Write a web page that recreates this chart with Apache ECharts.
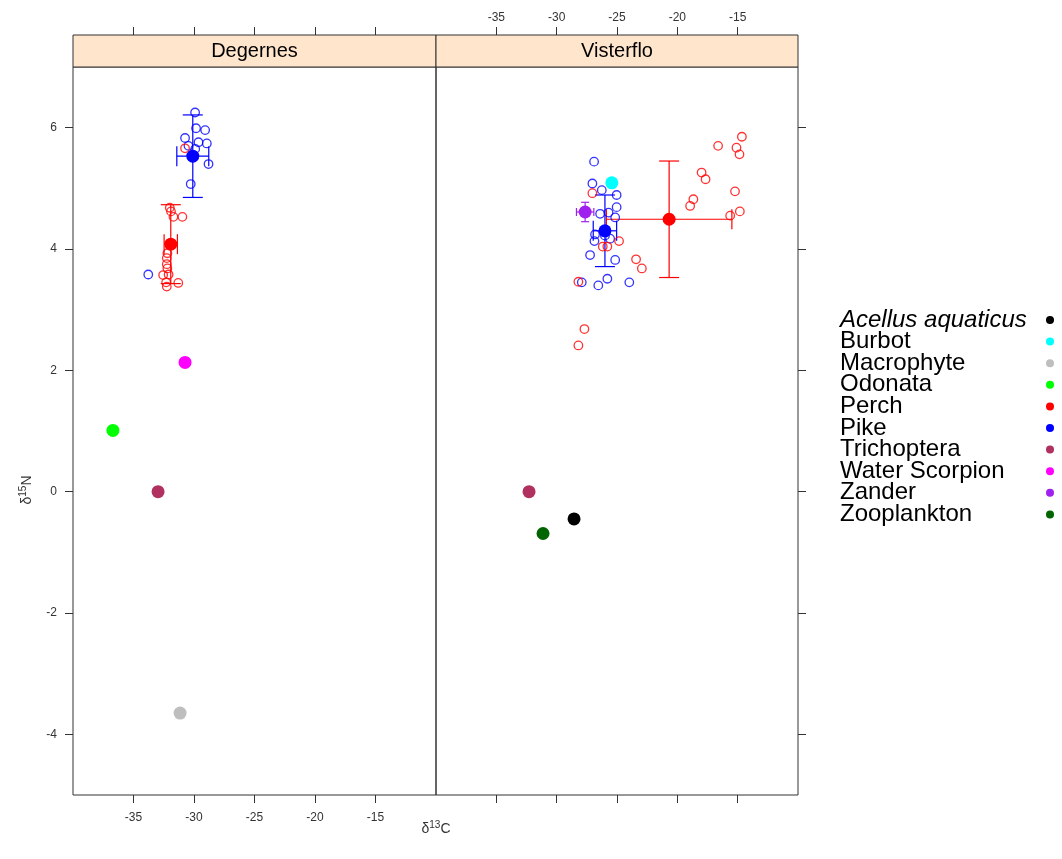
<!DOCTYPE html>
<html><head><meta charset="utf-8">
<script src="https://cdn.jsdelivr.net/npm/echarts@6/dist/echarts.min.js"></script>
<style>html,body{margin:0;padding:0;background:#fff}#c{width:1062px;height:859px}</style>
</head><body><div id="c"></div>
<script>
// ---------------- DATA ----------------
const species = ['Acellus aquaticus','Burbot','Macrophyte','Odonata','Perch','Pike','Trichoptera','Water Scorpion','Zander','Zooplankton'];
const speciesColors = ['#000000','#00FFFF','#BEBEBE','#00FF00','#FF0000','#0000FF','#B03060','#FF00FF','#A020F0','#006400'];
const panels = ['Degernes','Visterflo'];
const xTickValues = [-35,-30,-25,-20,-15];
const yTickValues = [-4,-2,0,2,4,6];

// Degernes group means (d13C, d15N) and error half-widths (null = none)
const degSpecies = ['Macrophyte','Odonata','Perch','Pike','Trichoptera','Water Scorpion'];
const degMeanC  = [-31.15,-36.7,-31.92,-30.1,-32.97,-30.74];
const degMeanN  = [-3.65,1.01,4.08,5.53,0.0,2.13];
const degErrC   = [null,null,0.55,1.32,null,null];
const degErrN   = [null,null,0.65,0.68,null,null];

// Visterflo group means
const visSpecies = ['Acellus aquaticus','Burbot','Perch','Pike','Trichoptera','Zander','Zooplankton'];
const visMeanC  = [-28.56,-25.43,-20.68,-26.0,-32.29,-27.64,-31.13];
const visMeanN  = [-0.45,5.09,4.49,4.30,0.0,4.61,-0.69];
const visErrC   = [null,null,5.2,0.97,null,0.72,null];
const visErrN   = [null,null,0.96,0.59,null,0.16,null];

// individual fish (d13C, d15N)
const degPike = [[-29.91,6.25],[-29.83,5.99],[-29.08,5.96],[-30.74,5.83],[-29.63,5.76],[-28.94,5.74],[-30.46,5.70],[-29.9,5.65],[-28.8,5.40],[-30.27,5.07],[-33.78,3.58]];
const degPerch = [[-32.0,4.68],[-31.9,4.62],[-31.7,4.53],[-30.96,4.53],[-32.2,3.93],[-32.25,3.85],[-32.25,3.75],[-32.2,3.68],[-32.55,3.57],[-32.1,3.58],[-32.3,3.45],[-32.25,3.38],[-31.3,3.44],[-30.74,5.66]];
const visPike = [[-26.9,5.44],[-27.04,5.08],[-26.26,4.97],[-25.03,4.89],[-25.03,4.69],[-26.4,4.58],[-25.7,4.60],[-25.15,4.52],[-26.82,4.24],[-26.87,4.13],[-25.57,4.17],[-26.0,4.22],[-27.23,3.90],[-25.15,3.82],[-27.92,3.45],[-26.55,3.40],[-25.8,3.51],[-23.98,3.45]];
const visPerch = [[-27.04,4.92],[-26.18,4.04],[-25.8,4.04],[-24.83,4.13],[-23.42,3.83],[-22.94,3.68],[-28.2,3.46],[-27.7,2.68],[-28.2,2.41],[-14.65,5.85],[-16.62,5.70],[-15.1,5.67],[-14.85,5.56],[-17.99,5.26],[-17.66,5.15],[-15.22,4.95],[-18.67,4.82],[-18.94,4.71],[-15.62,4.55],[-14.82,4.62]];

// ---------------- CHART ----------------
const colorOf = n => speciesColors[species.indexOf(n)];
const FONT = 'Liberation Sans, Arial, sans-serif';

function makeErrRender(cap) {
  return function (params, api) {
    const x = api.value(0), y = api.value(1), ex = api.value(2), ey = api.value(3);
    const c = api.coord([x, y]);
    const style = { stroke: api.visual('color'), lineWidth: 1.2, fill: null };
    const ch = [];
    if (ex > 0) {
      const l = api.coord([x - ex, y]), r = api.coord([x + ex, y]);
      ch.push({ type: 'line', shape: { x1: l[0], y1: c[1], x2: r[0], y2: c[1] }, style });
      ch.push({ type: 'line', shape: { x1: l[0], y1: c[1] - cap, x2: l[0], y2: c[1] + cap }, style });
      ch.push({ type: 'line', shape: { x1: r[0], y1: c[1] - cap, x2: r[0], y2: c[1] + cap }, style });
    }
    if (ey > 0) {
      const t = api.coord([x, y + ey]), b = api.coord([x, y - ey]);
      ch.push({ type: 'line', shape: { x1: c[0], y1: t[1], x2: c[0], y2: b[1] }, style });
      ch.push({ type: 'line', shape: { x1: c[0] - cap, y1: t[1], x2: c[0] + cap, y2: t[1] }, style });
      ch.push({ type: 'line', shape: { x1: c[0] - cap, y1: b[1], x2: c[0] + cap, y2: b[1] }, style });
    }
    return { type: 'group', children: ch };
  };
}

const series = [];
const panelDefs = [
  { sp: degSpecies, mc: degMeanC, mn: degMeanN, ec: degErrC, en: degErrN, xi: 0, yi: 0, pike: degPike, perch: degPerch },
  { sp: visSpecies, mc: visMeanC, mn: visMeanN, ec: visErrC, en: visErrN, xi: 2, yi: 1, pike: visPike, perch: visPerch }
];
// means first (legend icon source)
panelDefs.forEach(p => {
  p.sp.forEach((name, i) => {
    series.push({
      type: 'scatter', name, xAxisIndex: p.xi, yAxisIndex: p.yi, z: 5,
      symbol: 'circle', symbolSize: 13,
      itemStyle: { color: colorOf(name), opacity: 1 },
      data: [[p.mc[i], p.mn[i]]]
    });
  });
});
panelDefs.forEach(p => {
  p.sp.forEach((name, i) => {
    if (p.ec[i] == null && p.en[i] == null) return;
    series.push({
      type: 'custom', name, xAxisIndex: p.xi, yAxisIndex: p.yi, z: 2,
      itemStyle: { color: colorOf(name) },
      renderItem: makeErrRender(name === 'Zander' ? 4 : 10), encode: { x: 0, y: 1 },
      data: [[p.mc[i], p.mn[i], p.ec[i] || 0, p.en[i] || 0]]
    });
  });
  [['Pike', p.pike], ['Perch', p.perch]].forEach(([name, pts]) => {
    series.push({
      type: 'scatter', name, xAxisIndex: p.xi, yAxisIndex: p.yi, z: 3,
      symbol: 'circle', symbolSize: 8.5,
      itemStyle: { color: 'rgba(0,0,0,0)', borderColor: colorOf(name), borderWidth: 1.3 },
      data: pts
    });
  });
});

const tickStyle = { show: true, inside: false, length: 8, lineStyle: { color: '#333', width: 1 }, customValues: xTickValues };
function xAxis(gi, pos, showLab, offset) {
  return {
    type: 'value', gridIndex: gi, position: pos, offset: offset || 0, min: -40, max: -10,
    axisLine: { show: false, onZero: false }, splitLine: { show: false },
    axisTick: tickStyle,
    axisLabel: { show: showLab, margin: pos === 'bottom' ? 17 : 11, fontSize: 12, color: '#333', fontFamily: FONT, customValues: xTickValues }
  };
}
function yAxis(gi, pos, showLab) {
  return {
    type: 'value', gridIndex: gi, position: pos, min: -5, max: 7,
    axisLine: { show: false, onZero: false }, splitLine: { show: false },
    axisTick: Object.assign({}, tickStyle, { customValues: yTickValues }),
    axisLabel: { show: showLab, margin: 16, fontSize: 12, color: '#333', fontFamily: FONT, customValues: yTickValues }
  };
}

const option = {
  animation: false,
  backgroundColor: '#fff',
  grid: [
    { left: 73, top: 67, width: 363, height: 728, show: true, borderColor: '#333', borderWidth: 1, backgroundColor: 'transparent' },
    { left: 436, top: 67, width: 362, height: 728, show: true, borderColor: '#333', borderWidth: 1, backgroundColor: 'transparent' }
  ],
  xAxis: [xAxis(0, 'bottom', true), xAxis(0, 'top', false, 32), xAxis(1, 'bottom', false), xAxis(1, 'top', true, 32)],
  yAxis: [yAxis(0, 'left', true), yAxis(1, 'right', false)],
  legend: [
    {
      orient: 'vertical', left: 835, top: 308, padding: 0, itemGap: -2.4,
      itemWidth: 0, itemHeight: 0, icon: 'rect', align: 'left',
      textStyle: { fontSize: 24, color: '#000', fontFamily: FONT },
      data: species.map((n, i) => i === 0 ? { name: n, textStyle: { fontStyle: 'italic' } } : n)
    },
    {
      orient: 'vertical', right: 8, top: 308, padding: 0, itemGap: -2.4,
      itemWidth: 8, itemHeight: 8, icon: 'circle', align: 'right',
      formatter: () => ' ',
      textStyle: { fontSize: 24, color: '#000', fontFamily: FONT },
      data: species.slice()
    }
  ],
  graphic: [
    { type: 'rect', shape: { x: 73, y: 35, width: 363, height: 32 }, style: { fill: '#FFE5CC', stroke: '#333', lineWidth: 1 }, z: 1 },
    { type: 'rect', shape: { x: 436, y: 35, width: 362, height: 32 }, style: { fill: '#FFE5CC', stroke: '#333', lineWidth: 1 }, z: 1 },
    { type: 'text', x: 254.5, y: 51, style: { text: panels[0], fontSize: 20, fontFamily: FONT, fill: '#000', align: 'center', verticalAlign: 'middle' }, z: 2 },
    { type: 'text', x: 617, y: 51, style: { text: panels[1], fontSize: 20, fontFamily: FONT, fill: '#000', align: 'center', verticalAlign: 'middle' }, z: 2 },
    { type: 'text', x: 436, y: 829, style: { text: '{a|δ}{b|13}{a|C}', align: 'center', verticalAlign: 'middle', fill: '#333', fontFamily: FONT,
        rich: { a: { fontSize: 14, lineHeight: 18, fontFamily: FONT }, b: { fontSize: 10, lineHeight: 10, verticalAlign: 'top', fontFamily: FONT } } } },
    { type: 'text', x: 27, y: 490, rotation: Math.PI / 2, style: { text: '{a|δ}{b|15}{a|N}', align: 'center', verticalAlign: 'middle', fill: '#333', fontFamily: FONT,
        rich: { a: { fontSize: 14, lineHeight: 18, fontFamily: FONT }, b: { fontSize: 10, lineHeight: 10, verticalAlign: 'top', fontFamily: FONT } } } }
  ],
  series
};
const chart = echarts.init(document.getElementById('c'), null, { renderer: 'canvas' });
chart.setOption(option);
</script></body></html>
